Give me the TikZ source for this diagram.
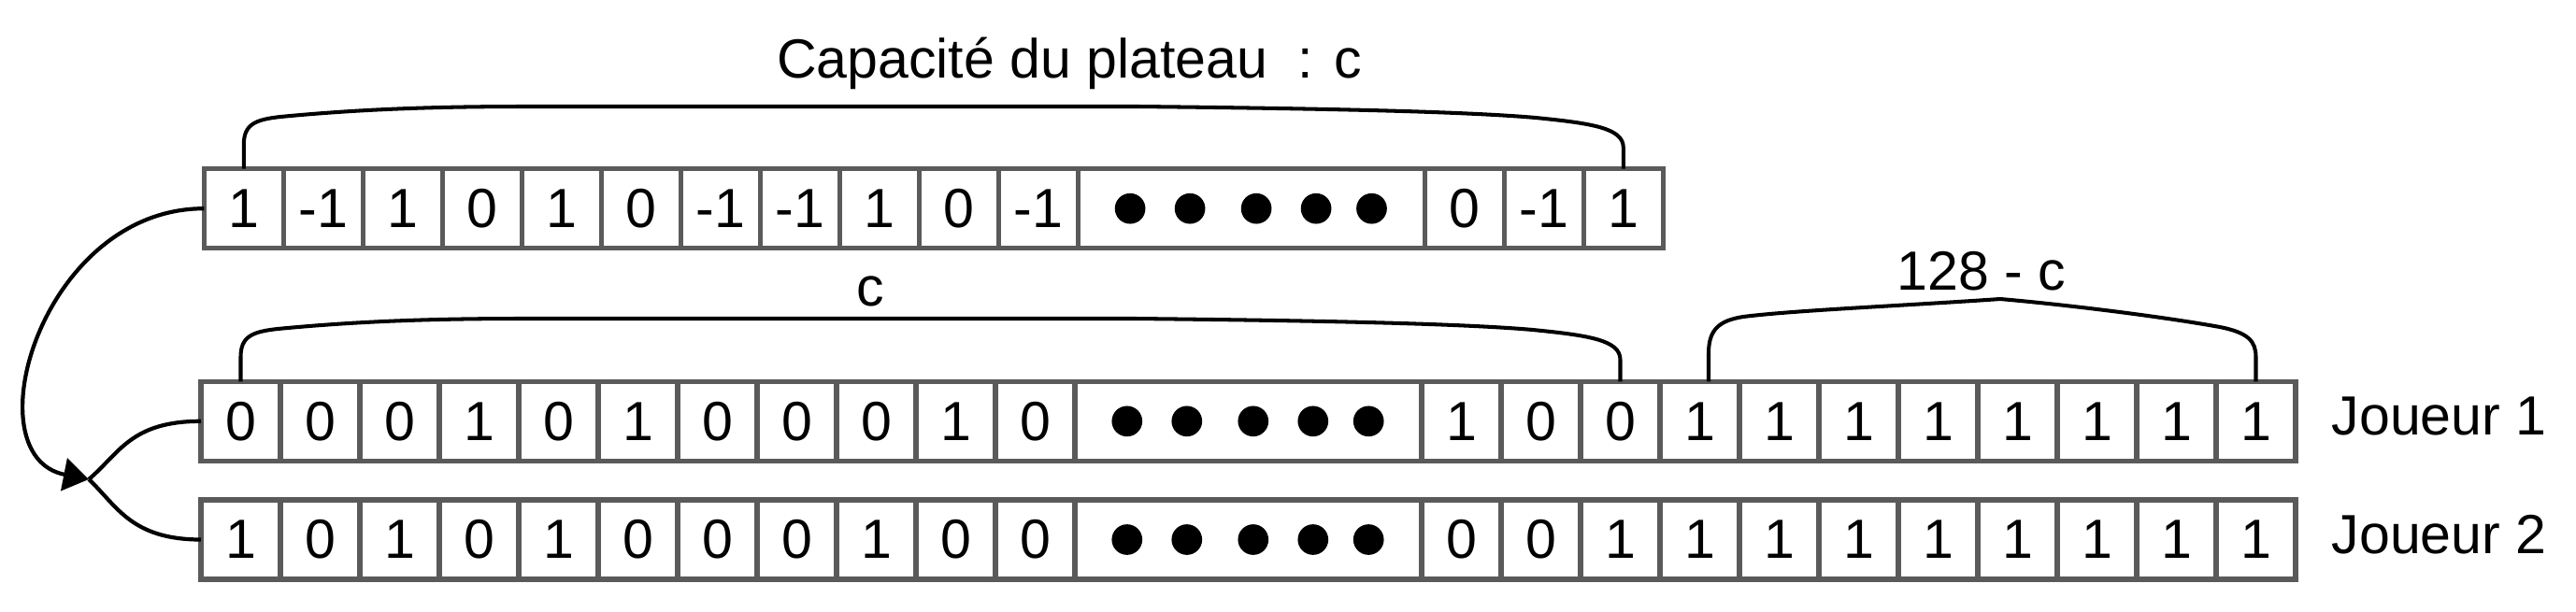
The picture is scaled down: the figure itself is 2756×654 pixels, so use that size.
\documentclass[tikz,border=0pt]{standalone}
\usepackage{fontspec}
\setmainfont{Liberation Sans}
\usepackage{tikz}
\usetikzlibrary{arrows.meta,positioning,calc}
\definecolor{ink}{HTML}{000000}
\definecolor{frame}{HTML}{5A5A5A}
\tikzset{
  >={Triangle[length=7.7pt,width=10pt]},
  every node/.style={font=\fontsize{16.8}{20}\selectfont,text=ink},
  cell/.style={draw=frame,line width=1.45pt,fill=white,minimum width=8.5mm,minimum height=8.5mm,inner sep=0pt,outer sep=0pt},
  dotcell/.style={cell,minimum width=37.1mm},
  brace/.style={draw=ink,line width=1.15pt},
  link/.style={draw=ink,line width=1.2pt},
  caption/.style={anchor=base,inner sep=0pt}
}

\begin{document}
\begin{tikzpicture}[x=0.1mm,y=-0.1mm]
  \path[use as bounding box,fill=white] (0,0) rectangle (2756,654);

  % plateau
  \node[cell] (b-1) at (260.8,223.2) {1};
  \foreach \v [count=\i from 2,remember=\i as \j (initially 1)] in {-1,1,0,1,0,-1,-1,1,0,-1}
    \node[cell,right=0pt of b-\j] (b-\i) {\v};
  \node[dotcell,right=0pt of b-11] (b-dots) {};
  \foreach \v [count=\i from 12,remember=\i as \j (initially dots)] in {0,-1,1}
    \node[cell,right=0pt of b-\j] (b-\i) {\v};

  % joueur 1
  \node[cell] (p-1) at (257.5,450.8) {0};
  \foreach \v [count=\i from 2,remember=\i as \j (initially 1)] in {0,0,1,0,1,0,0,0,1,0}
    \node[cell,right=0pt of p-\j] (p-\i) {\v};
  \node[dotcell,right=0pt of p-11] (p-dots) {};
  \foreach \v [count=\i from 12,remember=\i as \j (initially dots)] in {1,0,0,1,1,1,1,1,1,1,1}
    \node[cell,right=0pt of p-\j] (p-\i) {\v};

  % joueur 2
  \node[cell] (q-1) at (257.5,577.5) {1};
  \foreach \v [count=\i from 2,remember=\i as \j (initially 1)] in {0,1,0,1,0,0,0,1,0,0}
    \node[cell,right=0pt of q-\j] (q-\i) {\v};
  \node[dotcell,right=0pt of q-11] (q-dots) {};
  \foreach \v [count=\i from 12,remember=\i as \j (initially dots)] in {0,0,1,1,1,1,1,1,1,1,1}
    \node[cell,right=0pt of q-\j] (q-\i) {\v};

  \foreach \r in {b,p,q}
    \foreach \dx in {-129.7,-65.7,5.3,69.3,128.7}
      \fill[ink] ($(\r-dots.center)+(\dx,0)$) circle[radius=1.635mm];

  \node[caption,right=3.8mm of p-22,yshift=0.5mm] (joueur1) {Joueur 1};
  \node[caption,right=3.8mm of q-22,yshift=0.5mm] (joueur2) {Joueur 2};

  % accolades
  \draw[brace] (b-1.north) -- (260.8,155) .. controls (260.8,133) and (273,128) .. (300,125)
    .. controls (383,117) and (463,114) .. (563,114) -- (1218,114)
    .. controls (1403,116) and (1563,119) .. (1643,126)
    .. controls (1703,132) and (1736.8,137) .. (1736.8,158) -- (b-14.north);
  \node[caption] (capacity) at (1144,83) {Capacité du plateau~~: c};

  \draw[brace] (p-1.north) -- (257.5,382) .. controls (257.5,360) and (270,355) .. (297,352)
    .. controls (380,344) and (460,341) .. (560,341) -- (1215,341)
    .. controls (1400,343) and (1560,346) .. (1640,353)
    .. controls (1700,359) and (1733.5,364) .. (1733.5,385) -- (p-14.north);
  \node[caption] (csize) at (931,327) {c};

  \draw[brace] ([xshift=0.95mm]p-15.north) -- (1828,378) .. controls (1828,352) and (1840,343) .. (1865,339)
    .. controls (1920,332) and (2040,327) .. (2140,320)
    .. controls (2220,327) and (2320,340) .. (2375,350)
    .. controls (2405,356) and (2413.5,365) .. (2413.5,382) -- (p-22.north);
  \node[caption] (restsize) at (2120,310) {128 - c};

  % liens
  \coordinate (merge) at (95,513);
  \draw[link,->] (b-1.west) .. controls (45,223) and (-32,488) .. (merge);
  \draw[link] (p-1.west) .. controls (140,450.8) and (128,485) .. (merge);
  \draw[link] (q-1.west) .. controls (140,577.5) and (125,541) .. (merge);
\end{tikzpicture}
\end{document}
